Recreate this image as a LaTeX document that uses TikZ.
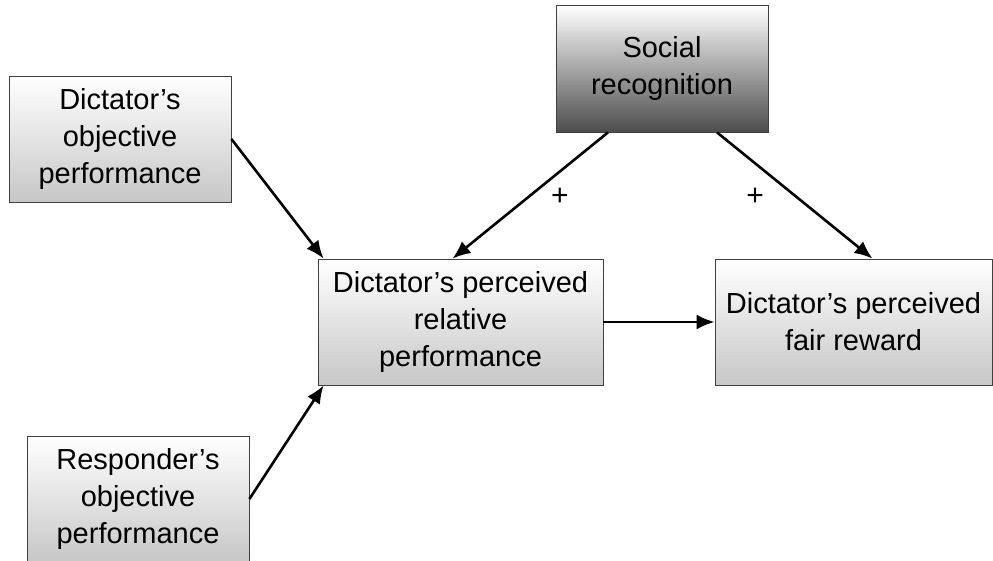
\documentclass[tikz,border=0pt]{standalone}
\usepackage{fontspec}
\setmainfont{Liberation Sans}
\usepackage{tikz}
\usetikzlibrary{arrows.meta}

\begin{document}
\begin{tikzpicture}[x=1pt,y=-1pt]
					\tikzstyle{box}=[rectangle,draw=black!75,line width=0.8pt,top color=white,bottom color=black!22,align=center,inner sep=0pt,font=\fontsize{29}{37}\selectfont]
					\tikzstyle{dark}=[bottom color=black!70]
					\tikzstyle{arr}=[-{Latex[length=18pt,width=15pt]},line width=2.6pt]
					\useasboundingbox (0,0) rectangle (993,560);
					\node[box,minimum width=222pt,minimum height=126pt] (1) at (120,139) {Dictator's\\objective\\performance};
					\node[box,dark,minimum width=212pt,minimum height=127pt] (2) at (662,68.5) {Social\\recognition};
					\node[box,minimum width=285pt,minimum height=126pt] (3) at (460.5,322) {Dictator's perceived\\relative\\performance};
					\node[box,minimum width=277pt,minimum height=126pt] (4) at (853.5,322) {Dictator's perceived\\fair reward};
					\node[box,minimum width=222pt,minimum height=126pt] (5) at (138,499) {Responder's\\objective\\performance};
					\node[font=\fontsize{30}{34}\selectfont] (6) at (560,197) {+};
					\node[font=\fontsize{30}{34}\selectfont] (7) at (755,197) {+};
					\draw[arr] (1.east) -- ([xshift=6pt]3.north west);
					\draw[arr] ([xshift=-54pt]2.south) -- ([xshift=-8pt]3.north);
					\draw[arr] ([xshift=55pt]2.south) -- ([xshift=19pt]4.north);
					\draw[arr] (3.east) -- (4.west);
					\draw[arr] (5.east) -- ([xshift=6pt]3.south west);
\end{tikzpicture}
\end{document}
